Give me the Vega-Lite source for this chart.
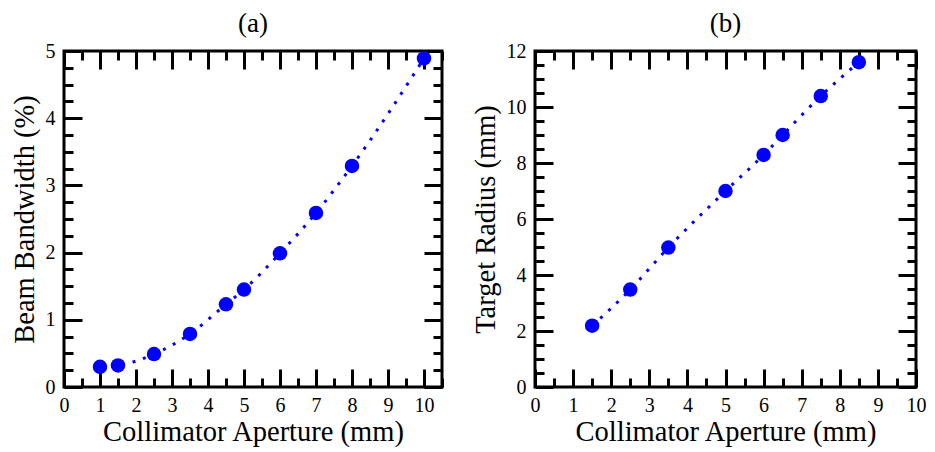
{
  "$schema": "https://vega.github.io/schema/vega-lite/v6.json",
  "background": "white",
  "padding": {"left": 8, "top": 8, "right": 5, "bottom": 2},
  "spacing": 24,
  "config": {
    "view": {"stroke": "black", "strokeWidth": 3},
    "axis": {
      "domain": false,
      "grid": false,
      "tickColor": "black",
      "tickWidth": 3,
      "labelFont": "Liberation Serif",
      "labelFontSize": 20,
      "labelColor": "black",
      "labelFlush": false,
      "labelOverlap": false,
      "labelBound": false,
      "titleFont": "Liberation Serif",
      "titleFontSize": 28.5,
      "titleFontWeight": "normal",
      "titleColor": "black"
    },
    "title": {"font": "Liberation Serif", "fontSize": 27, "fontWeight": "normal", "color": "black"}
  },
  "hconcat": [
    {
      "title": {"text": "(a)", "offset": 3},
      "width": 378,
      "height": 336,
      "data": {"values": [
        {"aperture": 1, "bandwidth": 0.3},
        {"aperture": 1.5, "bandwidth": 0.32},
        {"aperture": 2.5, "bandwidth": 0.49},
        {"aperture": 3.5, "bandwidth": 0.79},
        {"aperture": 4.5, "bandwidth": 1.23},
        {"aperture": 5, "bandwidth": 1.45},
        {"aperture": 6, "bandwidth": 1.99},
        {"aperture": 7, "bandwidth": 2.59},
        {"aperture": 8, "bandwidth": 3.29},
        {"aperture": 10, "bandwidth": 4.89}
      ]},
      "resolve": {"axis": {"x": "independent", "y": "independent"}},
      "layer": [
        {
          "mark": {"type": "line", "color": "#0000ff", "strokeWidth": 3, "strokeDash": [3, 8], "interpolate": "monotone", "clip": true},
          "encoding": {
            "x": {"field": "aperture", "type": "quantitative",
              "scale": {"domain": [0, 10.5], "nice": false, "zero": false},
              "axis": {"orient": "bottom", "title": "Collimator Aperture (mm)",
                "values": [0,0.5,1,1.5,2,2.5,3,3.5,4,4.5,5,5.5,6,6.5,7,7.5,8,8.5,9,9.5,10,10.5],
                "tickSize": {"condition": {"test": "datum.value % 1 === 0", "value": -18}, "value": -9},
                "labelPadding": 26,
                "labelExpr": "datum.value % 1 === 0 ? format(datum.value, 'd') : ''",
                "titlePadding": -7}},
            "y": {"field": "bandwidth", "type": "quantitative",
              "scale": {"domain": [0, 5], "nice": false, "zero": false},
              "axis": {"orient": "left", "title": "Beam Bandwidth (%)",
                "values": [0,0.25,0.5,0.75,1,1.25,1.5,1.75,2,2.25,2.5,2.75,3,3.25,3.5,3.75,4,4.25,4.5,4.75,5],
                "tickSize": {"condition": {"test": "datum.value % 1 === 0", "value": -18}, "value": -9},
                "labelPadding": 27,
                "labelExpr": "datum.value % 1 === 0 ? format(datum.value, 'd') : ''",
                "titlePadding": 6}}
          }
        },
        {
          "mark": {"type": "point", "filled": true, "color": "#0000ff", "size": 210, "opacity": 1},
          "encoding": {
            "x": {"field": "aperture", "type": "quantitative",
              "axis": {"orient": "top", "title": null, "labels": false,
                "values": [0,0.5,1,1.5,2,2.5,3,3.5,4,4.5,5,5.5,6,6.5,7,7.5,8,8.5,9,9.5,10,10.5],
                "tickSize": {"condition": {"test": "datum.value % 1 === 0", "value": -18}, "value": -9}}},
            "y": {"field": "bandwidth", "type": "quantitative",
              "axis": {"orient": "right", "title": null, "labels": false,
                "values": [0,0.25,0.5,0.75,1,1.25,1.5,1.75,2,2.25,2.5,2.75,3,3.25,3.5,3.75,4,4.25,4.5,4.75,5],
                "tickSize": {"condition": {"test": "datum.value % 1 === 0", "value": -18}, "value": -9}}}
          }
        }
      ]
    },
    {
      "title": {"text": "(b)", "offset": 3},
      "width": 381,
      "height": 336,
      "data": {"values": [
        {"aperture": 1.5, "radius": 2.19},
        {"aperture": 2.5, "radius": 3.48},
        {"aperture": 3.5, "radius": 4.98},
        {"aperture": 5, "radius": 7.0},
        {"aperture": 6, "radius": 8.29},
        {"aperture": 6.5, "radius": 9.0},
        {"aperture": 7.5, "radius": 10.39},
        {"aperture": 8.5, "radius": 11.6}
      ]},
      "resolve": {"axis": {"x": "independent", "y": "independent"}},
      "layer": [
        {
          "mark": {"type": "line", "color": "#0000ff", "strokeWidth": 3, "strokeDash": [3, 8], "interpolate": "monotone", "clip": true},
          "encoding": {
            "x": {"field": "aperture", "type": "quantitative",
              "scale": {"domain": [0, 10], "nice": false, "zero": false},
              "axis": {"orient": "bottom", "title": "Collimator Aperture (mm)",
                "values": [0,0.5,1,1.5,2,2.5,3,3.5,4,4.5,5,5.5,6,6.5,7,7.5,8,8.5,9,9.5,10],
                "tickSize": {"condition": {"test": "datum.value % 1 === 0", "value": -18}, "value": -9},
                "labelPadding": 26,
                "labelExpr": "datum.value % 1 === 0 ? format(datum.value, 'd') : ''",
                "titlePadding": -7}},
            "y": {"field": "radius", "type": "quantitative",
              "scale": {"domain": [0, 12], "nice": false, "zero": false},
              "axis": {"orient": "left", "title": "Target Radius (mm)",
                "values": [0,0.5,1,1.5,2,2.5,3,3.5,4,4.5,5,5.5,6,6.5,7,7.5,8,8.5,9,9.5,10,10.5,11,11.5,12],
                "tickSize": {"condition": {"test": "datum.value % 2 === 0", "value": -18}, "value": -9},
                "labelPadding": 27,
                "labelExpr": "datum.value % 2 === 0 ? format(datum.value, 'd') : ''",
                "titlePadding": 6}}
          }
        },
        {
          "mark": {"type": "point", "filled": true, "color": "#0000ff", "size": 210, "opacity": 1},
          "encoding": {
            "x": {"field": "aperture", "type": "quantitative",
              "axis": {"orient": "top", "title": null, "labels": false,
                "values": [0,0.5,1,1.5,2,2.5,3,3.5,4,4.5,5,5.5,6,6.5,7,7.5,8,8.5,9,9.5,10],
                "tickSize": {"condition": {"test": "datum.value % 1 === 0", "value": -18}, "value": -9}}},
            "y": {"field": "radius", "type": "quantitative",
              "axis": {"orient": "right", "title": null, "labels": false,
                "values": [0,0.5,1,1.5,2,2.5,3,3.5,4,4.5,5,5.5,6,6.5,7,7.5,8,8.5,9,9.5,10,10.5,11,11.5,12],
                "tickSize": {"condition": {"test": "datum.value % 2 === 0", "value": -18}, "value": -9}}}
          }
        }
      ]
    }
  ]
}
